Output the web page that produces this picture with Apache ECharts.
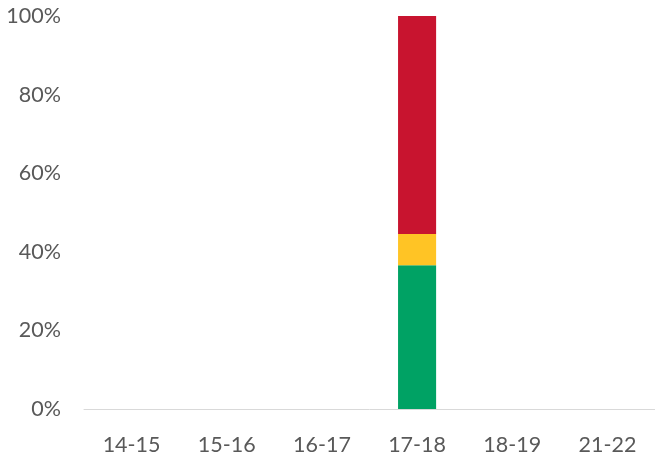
<!DOCTYPE html>
<html lang="en">
<head>
    <meta charset="UTF-8">
    <title>stacked share</title>
    <script src="https://cdn.jsdelivr.net/npm/echarts@6/dist/echarts.min.js"></script>
    <style>
        body { margin: 0; }
        #main { width: 655px; height: 459px; }
    </style>
</head>
<body>
<div id="main"></div>
<script>
    var categories = ['14-15', '15-16', '16-17', '17-18', '18-19', '21-22'];
    var greenVals = [null, null, null, 36.6, null, null];
    var yellowVals = [null, null, null, 7.9, null, null];
    var redVals = [null, null, null, 55.5, null, null];
    var yTicks = [0, 20, 40, 60, 80, 100];

    var labelFont = { color: '#595959', fontSize: 21.5, fontFamily: 'Lato, "Open Sans", sans-serif' };

    var option = {
        backgroundColor: '#fff',
        animation: false,
        grid: { left: 84, right: 0, top: 16, bottom: 50 },
        xAxis: {
            type: 'category',
            data: categories,
            axisLine: { lineStyle: { color: '#d9d9d9', width: 1 } },
            axisTick: { show: false },
            axisLabel: Object.assign({ margin: 25 }, labelFont)
        },
        yAxis: {
            type: 'value',
            min: yTicks[0],
            max: yTicks[yTicks.length - 1],
            interval: 20,
            splitLine: { show: false },
            axisLine: { show: false },
            axisTick: { show: false },
            axisLabel: Object.assign({ margin: 23, formatter: '{value}%' }, labelFont)
        },
        series: [
            { name: 'green', type: 'bar', stack: 's', data: greenVals, barWidth: '40%', itemStyle: { color: '#00A264' } },
            { name: 'yellow', type: 'bar', stack: 's', data: yellowVals, barWidth: '40%', itemStyle: { color: '#FFC425' } },
            { name: 'red', type: 'bar', stack: 's', data: redVals, barWidth: '40%', itemStyle: { color: '#C8142F' } }
        ]
    };

    var myChart = echarts.init(document.getElementById('main'));
    myChart.setOption(option);
</script>
</body>
</html>
